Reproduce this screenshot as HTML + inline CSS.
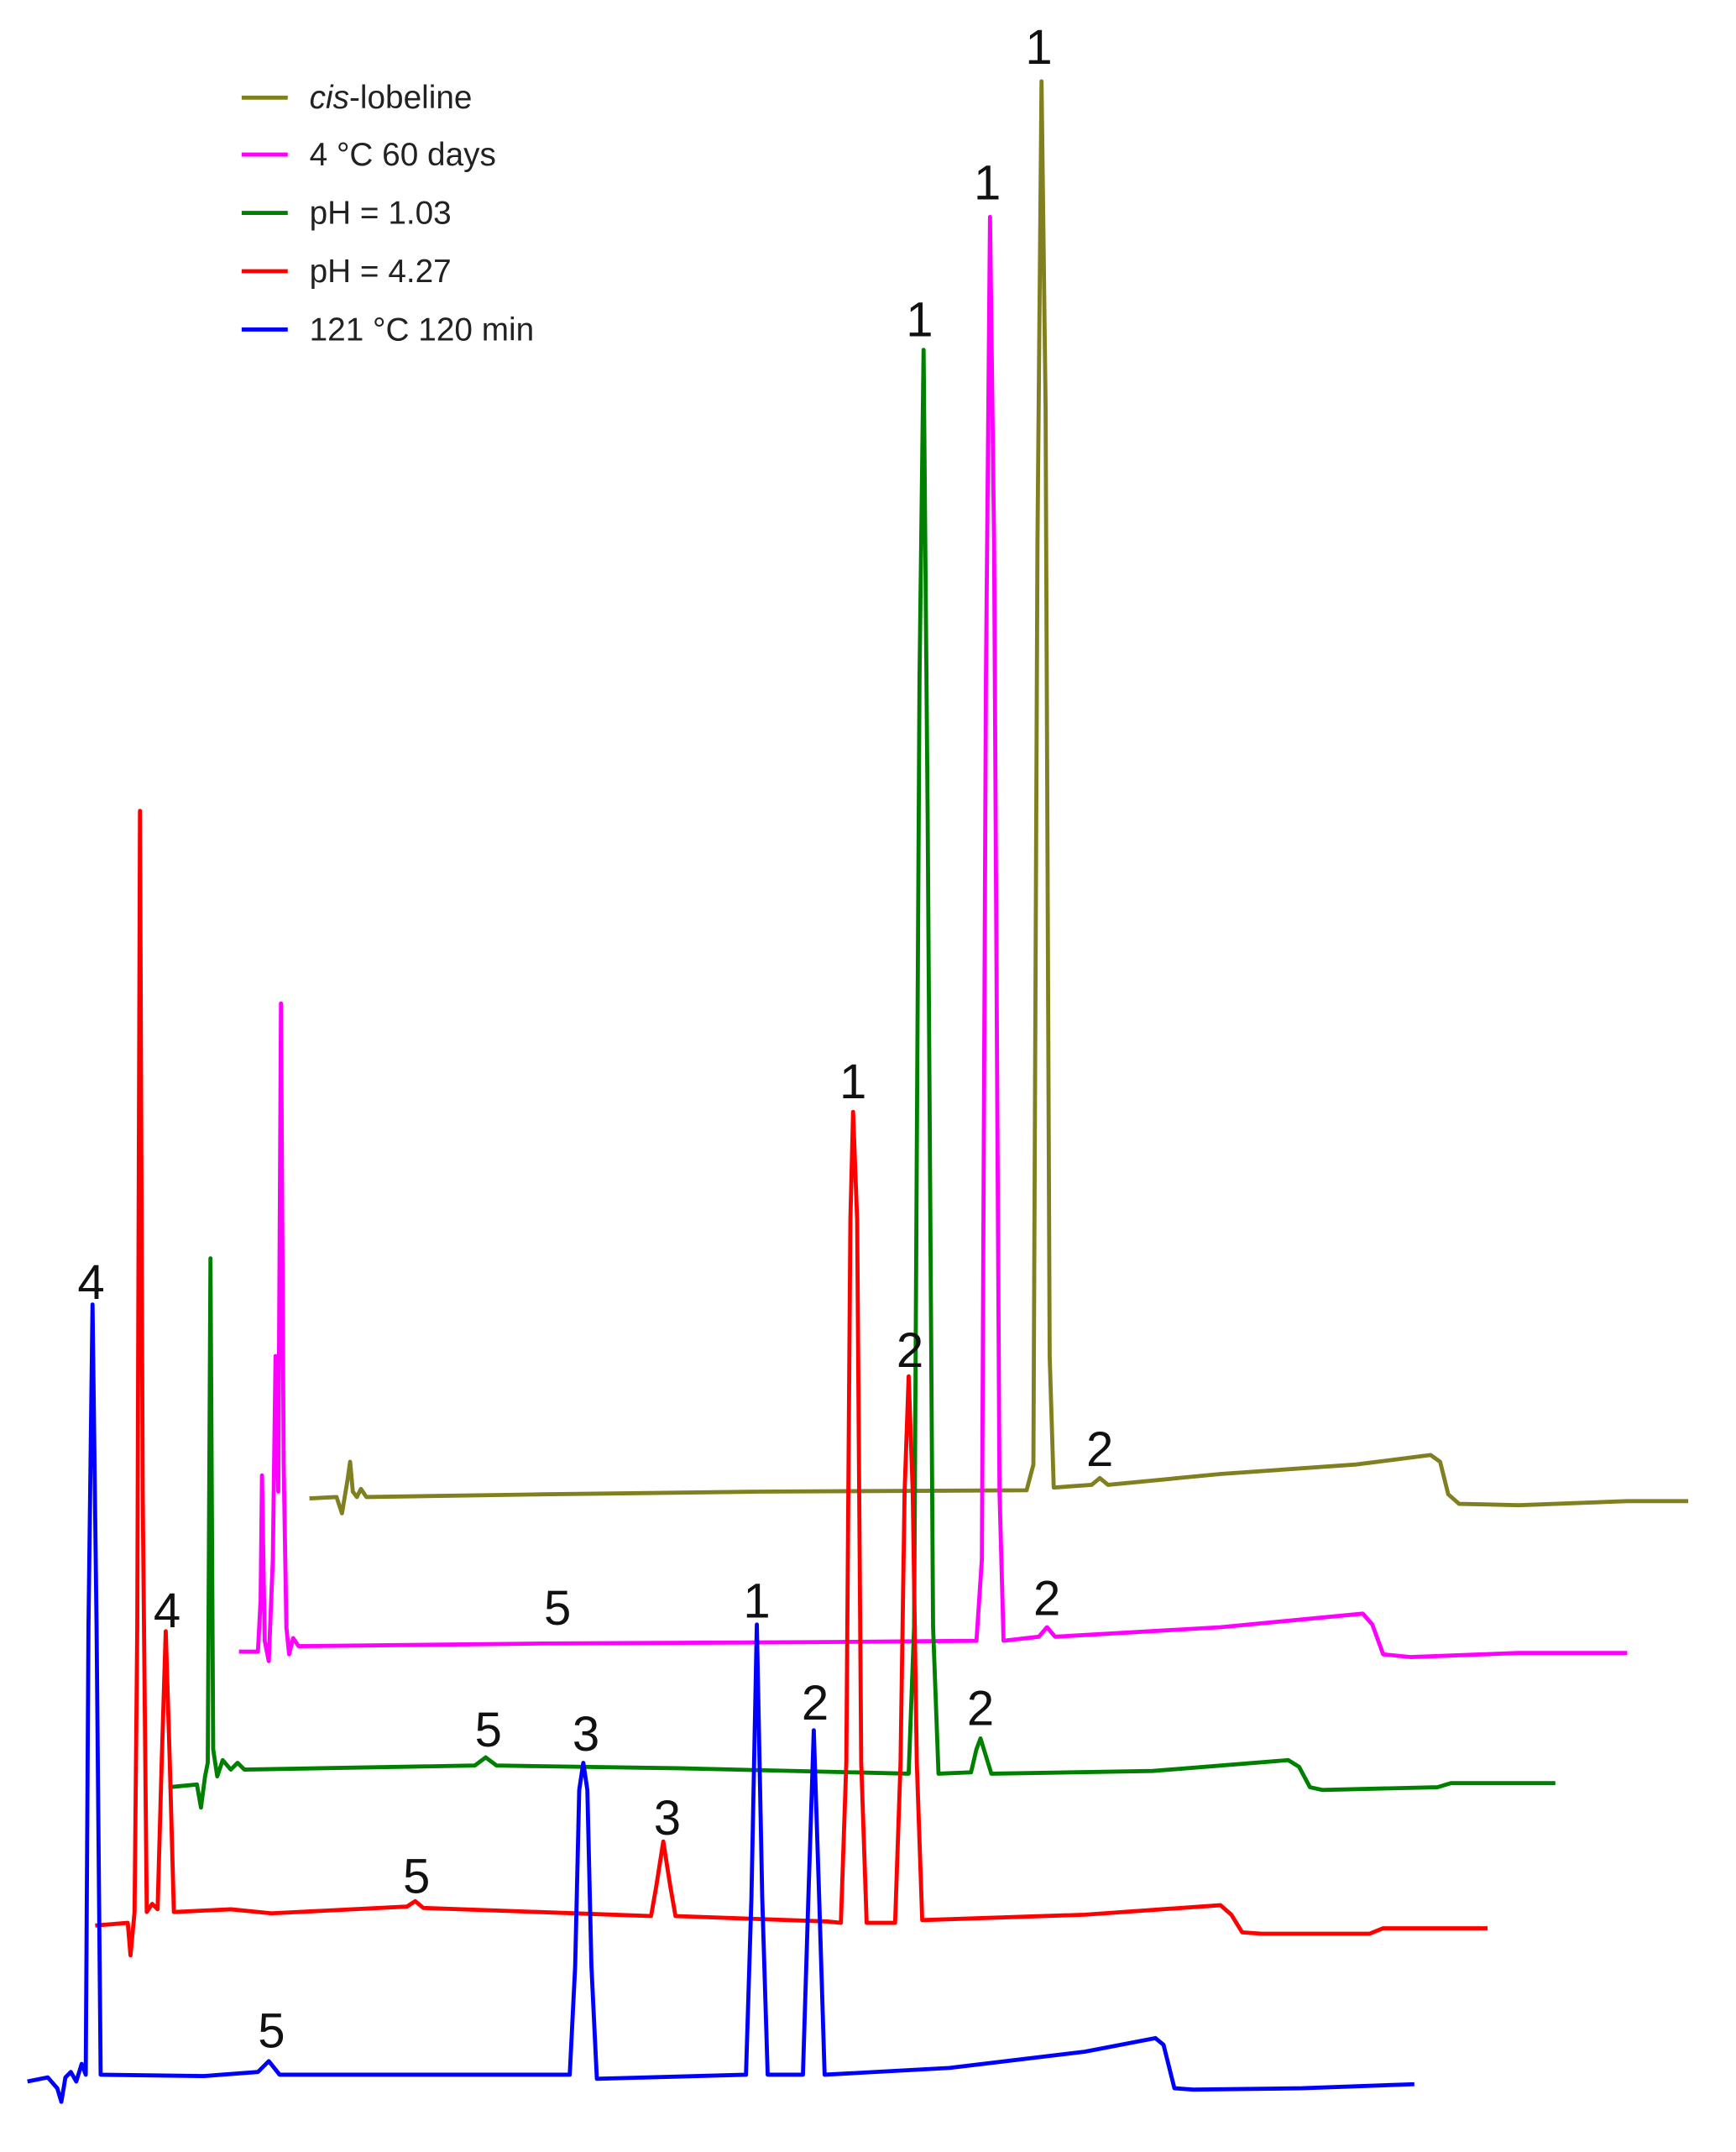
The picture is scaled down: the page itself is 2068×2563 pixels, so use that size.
<!DOCTYPE html>
<html><head><meta charset="utf-8"><style>html,body{margin:0;padding:0;background:#fff}svg{display:block}</style></head>
<body>
<svg width="2068" height="2563" viewBox="0 0 1280 1587" xmlns="http://www.w3.org/2000/svg" font-family="Liberation Sans, sans-serif">
<g fill="none" stroke-width="3" stroke-linejoin="round">
<path stroke="#808020" d="M228,1105 L248,1104 L252,1116 L256,1092 L258,1078 L260,1100 L263,1104 L266,1098 L270,1104 L400,1102 L560,1100 L757,1099 L762,1080 L765,400 L768,60 L771,300 L774,1000 L777,1097 L805,1095 L811,1090 L817,1095 L900,1087 L1000,1080 L1055,1073 L1062,1078 L1068,1102 L1076,1109 L1120,1110 L1200,1107 L1245,1107"/>
<path stroke="#ff00ff" d="M176,1218 L190,1218 L192,1180 L193,1088 L195,1210 L198,1225 L201,1150 L203,1000 L205,1100 L207,740 L209,1080 L211,1200 L213,1220 L216,1208 L220,1214 L400,1212 L600,1211 L720,1210 L724,1150 L727,500 L730,160 L733,400 L737,1100 L740,1210 L766,1207 L772,1200 L778,1207 L900,1200 L1005,1190 L1012,1198 L1020,1220 L1040,1222 L1120,1219 L1200,1219"/>
<path stroke="#008000" d="M124,1318 L145,1316 L148,1333 L151,1310 L153,1300 L155,928 L157,1290 L160,1310 L164,1298 L170,1305 L175,1300 L180,1305 L350,1302 L358,1296 L366,1302 L500,1304 L670,1308 L674,1200 L678,500 L681,258 L684,600 L688,1200 L692,1308 L716,1307 L720,1290 L723,1282 L727,1295 L731,1308 L850,1306 L950,1298 L958,1303 L966,1318 L975,1320 L1060,1318 L1070,1315 L1147,1315"/>
<path stroke="#ff0000" d="M70,1420 L94,1418 L96,1442 L99,1410 L101,1200 L103,598 L105,1100 L108,1410 L112,1404 L116,1408 L119,1300 L122,1203 L125,1300 L128,1410 L170,1408 L200,1411 L300,1406 L306,1402 L312,1407 L480,1413 L484,1390 L489,1358 L494,1390 L498,1413 L610,1417 L620,1418 L624,1300 L627,900 L629,820 L632,900 L635,1300 L639,1418 L660,1418 L664,1300 L667,1100 L670,1015 L673,1100 L676,1300 L680,1416 L800,1412 L900,1405 L908,1412 L916,1425 L930,1426 L1010,1426 L1020,1422 L1097,1422"/>
<path stroke="#0000ff" d="M20,1535 L35,1532 L42,1540 L45,1550 L48,1532 L52,1528 L56,1535 L60,1522 L63,1530 L65,1200 L68,962 L71,1200 L74,1530 L150,1531 L190,1528 L198,1520 L206,1530 L300,1530 L420,1530 L424,1450 L427,1320 L430,1300 L433,1320 L436,1450 L440,1533 L550,1530 L554,1400 L558,1198 L562,1400 L566,1530 L592,1530 L596,1400 L600,1276 L604,1400 L608,1530 L700,1525 L800,1513 L852,1503 L858,1508 L866,1540 L880,1541 L960,1540 L1043,1537"/>
<line x1="178" y1="72" x2="212" y2="72" stroke="#808020"/>
<line x1="178" y1="114" x2="212" y2="114" stroke="#ff00ff"/>
<line x1="178" y1="157" x2="212" y2="157" stroke="#008000"/>
<line x1="178" y1="200" x2="212" y2="200" stroke="#ff0000"/>
<line x1="178" y1="243" x2="212" y2="243" stroke="#0000ff"/>
</g>
<g font-size="24" fill="#222">
<text x="228" y="80"><tspan font-style="italic">cis</tspan>-lobeline</text>
<text x="228" y="122">4 °C 60 days</text>
<text x="228" y="165">pH = 1.03</text>
<text x="228" y="208">pH = 4.27</text>
<text x="228" y="251">121 °C 120 min</text>
</g>
<g font-size="36" fill="#111" text-anchor="middle">
<text x="766" y="47">1</text>
<text x="728" y="147">1</text>
<text x="678" y="248">1</text>
<text x="629" y="810">1</text>
<text x="558" y="1193">1</text>
<text x="811" y="1081">2</text>
<text x="772" y="1191">2</text>
<text x="671" y="1008">2</text>
<text x="723" y="1272">2</text>
<text x="601" y="1268">2</text>
<text x="432" y="1291">3</text>
<text x="492" y="1353">3</text>
<text x="67" y="958">4</text>
<text x="123" y="1200">4</text>
<text x="411" y="1198">5</text>
<text x="360" y="1288">5</text>
<text x="307" y="1396">5</text>
<text x="200" y="1510">5</text>
</g>
</svg>
</body></html>
